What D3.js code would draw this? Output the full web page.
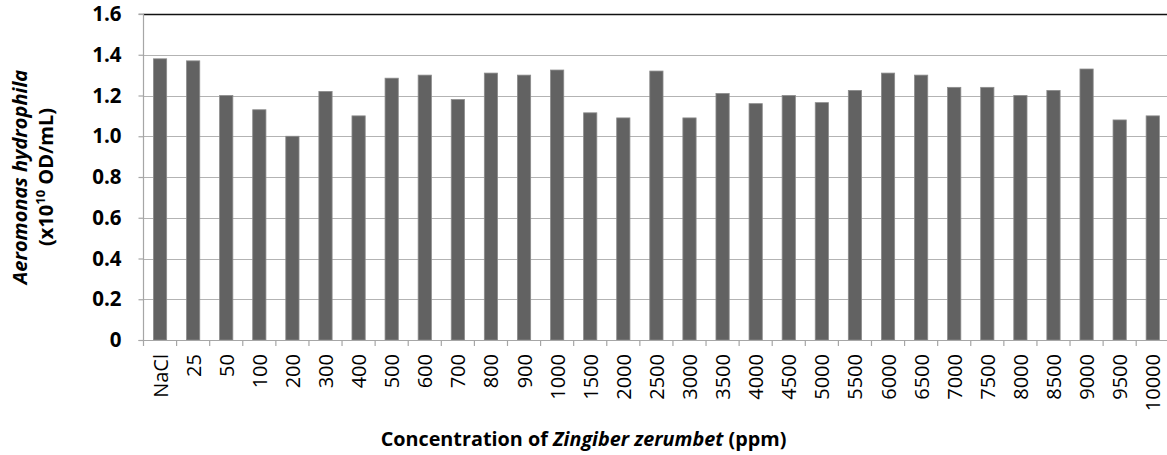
<!DOCTYPE html>
<html><head><meta charset="utf-8">
<script src="https://cdn.jsdelivr.net/npm/d3@7"></script>
<style>
html,body{margin:0;padding:0;background:#fff;}
svg{display:block;}
</style></head>
<body>
<svg id="chart" width="1167" height="455"></svg>
<script>
const categories = ["NaCl","25","50","100","200","300","400","500","600","700","800","900","1000","1500","2000","2500","3000","3500","4000","4500","5000","5500","6000","6500","7000","7500","8000","8500","9000","9500","10000"];
const values = [1.38,1.37,1.20,1.13,1.00,1.22,1.10,1.285,1.30,1.18,1.31,1.30,1.325,1.115,1.09,1.32,1.09,1.21,1.16,1.20,1.165,1.225,1.31,1.30,1.24,1.24,1.20,1.225,1.33,1.08,1.10];
const yTicks = [0,0.2,0.4,0.6,0.8,1.0,1.2,1.4,1.6];
const yTickLabels = ["0","0.2","0.4","0.6","0.8","1.0","1.2","1.4","1.6"];

(function () {
const svg = d3.select("#chart");
const pL = 143.5, pR = 1169.3, pT = 14, pB = 340;
const font = "'Open Sans', Lato, sans-serif";

const x = d3.scaleBand().domain(categories).range([pL, pR]).paddingInner(0.6).paddingOuter(0.3);
const y = d3.scaleLinear().domain([0, 1.6]).range([pB, pT]);
const step = (pR - pL) / categories.length;

// gridlines
svg.append("g").selectAll("line").data(yTicks.filter(d => d > 0)).join("line")
  .attr("x1", pL).attr("x2", 1167)
  .attr("y1", d => Math.round(y(d)) + 0.5).attr("y2", d => Math.round(y(d)) + 0.5)
  .attr("stroke", d => d === 1.6 ? "#111" : "#b3b3b3")
  .attr("stroke-width", d => d === 1.6 ? 1.5 : 1.2);

// bars
svg.append("g").selectAll("rect").data(values).join("rect")
  .attr("x", (d, i) => x(categories[i]))
  .attr("width", x.bandwidth())
  .attr("y", d => y(d))
  .attr("height", d => y(0) - y(d))
  .attr("fill", "#626262")
  .attr("stroke", "#8c8c8c").attr("stroke-width", 0.8);

// y axis
const yAxis = d3.axisLeft(y).tickValues(yTicks).tickFormat((d, i) => yTickLabels[i]).tickSize(5).tickPadding(17);
const gy = svg.append("g").attr("transform", `translate(${pL},0)`).call(yAxis);
gy.select(".domain").attr("stroke", "#a6a6a6").attr("stroke-width", 1.2).attr("d", `M-5,${pT}H0V${pB}`);
gy.selectAll(".tick line").attr("stroke", "#a6a6a6").attr("stroke-width", 1.2);
gy.selectAll(".tick text").attr("font-family", font).attr("font-weight", "bold").attr("font-size", 20.5).attr("fill", "#000");

// x axis line and ticks at band boundaries
svg.append("line").attr("x1", pL - 5).attr("x2", 1167).attr("y1", pB + 0.5).attr("y2", pB + 0.5)
  .attr("stroke", "#a6a6a6").attr("stroke-width", 1.2);
svg.append("g").selectAll("line").data(d3.range(categories.length + 1)).join("line")
  .attr("x1", k => pL + k * step).attr("x2", k => pL + k * step)
  .attr("y1", pB).attr("y2", pB + 6)
  .attr("stroke", "#a6a6a6").attr("stroke-width", 1.2);

// x tick labels
svg.append("g").selectAll("text").data(categories).join("text")
  .attr("transform", d => `translate(${x(d) + x.bandwidth() / 2},${pB + 14}) rotate(-90)`)
  .attr("text-anchor", "end").attr("dominant-baseline", "central")
  .attr("font-family", font).attr("font-size", 20).attr("fill", "#000")
  .text(d => d);

// y axis title
const yt = svg.append("text")
  .attr("transform", `translate(0,${(pT + pB) / 2}) rotate(-90)`)
  .attr("text-anchor", "middle").attr("font-family", font).attr("font-weight", "bold").attr("font-size", 20).attr("fill", "#000");
yt.append("tspan").attr("x", 0).attr("y", 27).attr("font-style", "italic").text("Aeromonas hydrophila");
const l2 = yt.append("tspan").attr("x", 0).attr("y", 53);
l2.append("tspan").text("(x10");
l2.append("tspan").attr("dy", -8).attr("font-size", 13).text("10");
l2.append("tspan").attr("dy", 8).text(" OD/mL)");

// x axis title
const xt = svg.append("text").attr("x", 583.5).attr("y", 446).attr("text-anchor", "middle")
  .attr("font-family", font).attr("font-weight", "bold").attr("font-size", 19.8).attr("fill", "#000");
xt.append("tspan").text("Concentration of ");
xt.append("tspan").attr("font-style", "italic").text("Zingiber zerumbet");
xt.append("tspan").text(" (ppm)");
})();
</script>
</body></html>
